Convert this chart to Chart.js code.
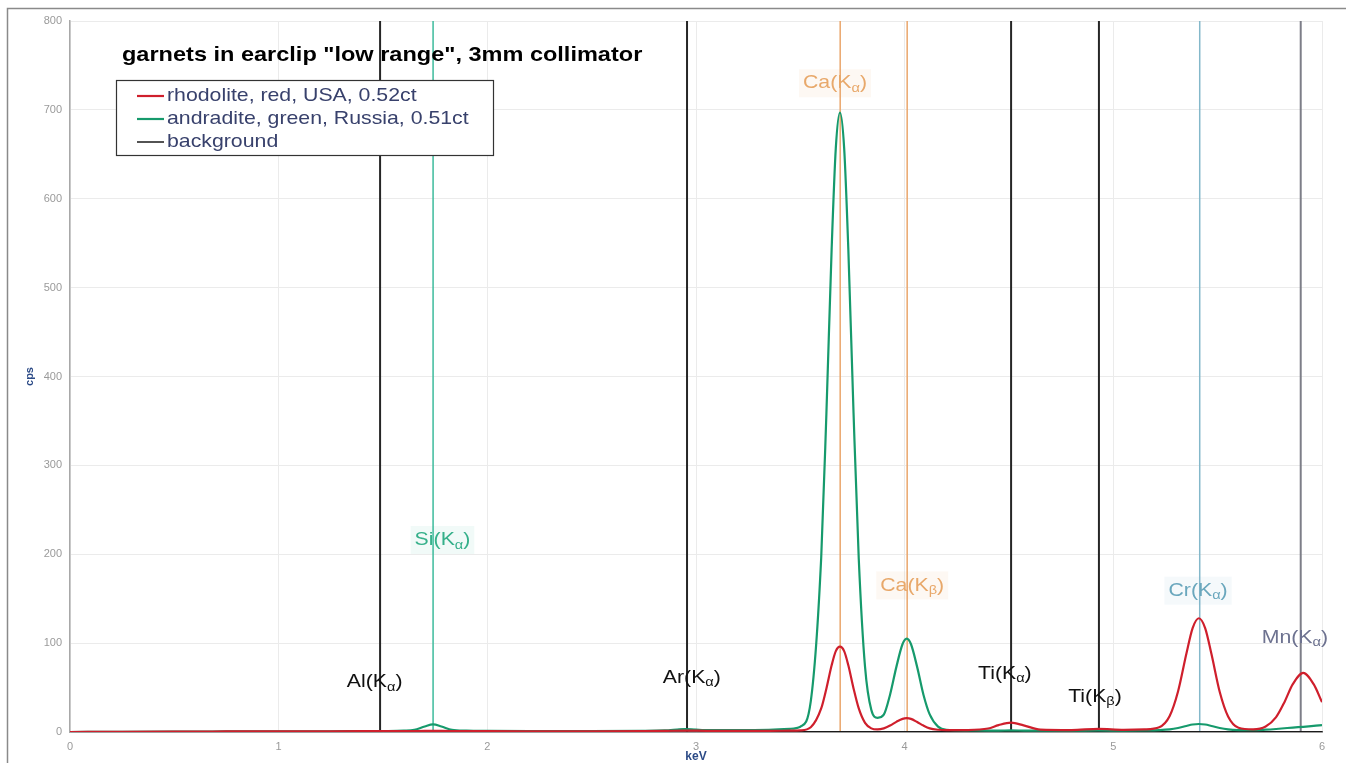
<!DOCTYPE html>
<html>
<head>
<meta charset="utf-8">
<title>garnets in earclip</title>
<script src="https://cdn.jsdelivr.net/npm/chart.js@4.4.1/dist/chart.umd.min.js"></script>
<style>
  html, body { margin: 0; padding: 0; background: #fff; }
  #wrap { position: relative; width: 1346px; height: 763px; }
</style>
</head>
<body>
<div id="wrap"><canvas id="spectrumChart"></canvas></div>
<script>
// energy grid (keV), denser around the peaks
var energies = [0, 0.25, 0.5, 0.75, 1.0, 1.25, 1.4, 1.5, 1.6, 1.65,
    1.7, 1.74, 1.78, 1.83, 1.9, 2.0, 2.25, 2.5, 2.75, 2.85,
    2.95, 3.05, 3.2, 3.35, 3.45, 3.5, 3.55, 3.6, 3.625, 3.65,
    3.67, 3.69, 3.71, 3.73, 3.755, 3.78, 3.81, 3.84, 3.87, 3.9,
    3.93, 3.96, 3.99, 4.01, 4.03, 4.06, 4.09, 4.12, 4.16, 4.2,
    4.3, 4.4, 4.45, 4.51, 4.57, 4.65, 4.8, 4.93, 5.05, 5.15,
    5.22, 5.27, 5.31, 5.35, 5.38, 5.41, 5.44, 5.47, 5.51, 5.55,
    5.6, 5.67, 5.73, 5.78, 5.82, 5.86, 5.91, 5.96, 6.0];

// counts per second
var rhodolite = [0, 0.3, 0.5, 0.6, 0.7, 0.8, 0.9, 1.0, 1.0, 1.1,
    1.2, 1.3, 1.2, 1.1, 1.0, 0.9, 0.8, 0.8, 1.0, 1.2,
    1.6, 1.3, 1.2, 1.3, 1.5, 1.8, 5.3, 26.5, 49, 75,
    91, 96, 91, 75, 49, 26.5, 10.3, 4.1, 2.9, 4.1,
    7.2, 11.4, 14.8, 15.5, 14.8, 11.2, 7.2, 4.1, 2.5, 2.1,
    2.2, 3.9, 7.7, 10.5, 7.5, 2.7, 2.2, 3.6, 2.5, 2.9,
    5.3, 18, 45.5, 88, 117, 128, 117, 88, 45, 17.5,
    4.8, 3.0, 6.1, 16.7, 33.6, 53.8, 66.5, 53.8, 33.6];

var andradite = [0, 0.3, 0.5, 0.6, 0.7, 0.8, 1.0, 1.1, 1.5, 2.4,
    6.2, 8.5, 6.2, 2.4, 1.5, 1.2, 1.0, 1.0, 1.3, 1.8,
    3.2, 2.0, 2.0, 2.5, 3.6, 6.0, 34.5, 196, 359, 543,
    657, 697, 657, 543, 359, 195, 73.5, 25, 16, 19.5,
    42, 73, 99, 105, 99, 73, 42, 19.8, 6.1, 2.5,
    1.8, 1.6, 1.6, 1.8, 1.6, 1.5, 1.5, 1.7, 1.6, 1.8,
    2.2, 3.0, 4.5, 6.8, 8.4, 9, 8.4, 6.8, 4.5, 3.0,
    2.2, 2.0, 2.6, 3.4, 4.2, 5.0, 5.8, 6.8, 7.8];

var background = [0, 0.3, 0.3, 0.3, 0.3, 0.3, 0.3, 0.3, 0.3, 0.3,
    0.3, 0.3, 0.3, 0.3, 0.3, 0.3, 0.3, 0.3, 0.5, 1.2,
    3.0, 1.0, 0.4, 0.3, 0.3, 0.3, 0.3, 0.3, 0.3, 0.3,
    0.3, 0.3, 0.3, 0.3, 0.3, 0.3, 0.3, 0.3, 0.3, 0.3,
    0.3, 0.3, 0.3, 0.3, 0.3, 0.3, 0.3, 0.3, 0.3, 0.3,
    0.3, 0.3, 0.3, 0.3, 0.3, 0.3, 0.3, 0.3, 0.3, 0.3,
    0.3, 0.3, 0.3, 0.3, 0.3, 0.3, 0.3, 0.3, 0.3, 0.3,
    0.3, 0.3, 0.3, 0.3, 0.3, 0.3, 0.3, 0.3, 0.3];

var seriesNames = ['rhodolite, red, USA, 0.52ct', 'andradite, green, Russia, 0.51ct', 'background'];

// emission lines
var lineElements = ['Al', 'Si', 'Ar', 'Ca', 'Ca', 'Ti', 'Ti', 'Cr', 'Mn'];
var lineShells = ['α', 'α', 'α', 'α', 'β', 'α', 'β', 'α', 'α'];
var lineEnergies = [1.486, 1.740, 2.957, 3.691, 4.012, 4.510, 4.931, 5.414, 5.898];
// where each line's name sits (keV, cps)
var labelEnergies = [1.46, 1.785, 2.98, 3.666, 4.036, 4.48, 4.912, 5.406, 5.87];
var labelCps = [56, 216, 61, 730, 165, 66, 40, 159, 106];

var xTicks = [0, 1, 2, 3, 4, 5, 6];
var yMax = 800;

// styles
var seriesColors = ['#cf1f2c', '#169a6c', '#1a1a1a'];
var seriesWidths = [2.2, 2.2, 1.5];
var lineColors = ['#262626', '#3dbb9c', '#262626', '#eaa66b', '#eaa66b', '#262626', '#262626', '#84b8ca', '#7d7e88'];
var lineWidths = [2, 1.5, 2, 1.5, 1.5, 2, 2, 1.5, 2];
var labelColors = ['#111', '#35b08a', '#111', '#e8a86a', '#e8a86a', '#111', '#111', '#6aa7bd', '#6d7290'];
var labelTints = [null, 'rgba(61,187,156,0.07)', null, 'rgba(234,166,107,0.08)', 'rgba(234,166,107,0.08)', null, null, 'rgba(132,184,202,0.08)', null];

var FONT = '"Liberation Sans", Arial, sans-serif';
var STRETCH = 1.12;

function pts(values) {
    var out = [];
    for (var i = 0; i < energies.length; i++) {
        out.push({ x: energies[i], y: values[i] });
    }
    return out;
}

function wideText(ctx, text, x, y) {
    ctx.save();
    ctx.translate(x, y);
    ctx.scale(STRETCH, 1);
    ctx.fillText(text, 0, 0);
    ctx.restore();
}

var datasets = [];
[rhodolite, andradite, background].forEach(function (vals, i) {
    datasets.push({
        label: seriesNames[i],
        inLegend: true,
        data: pts(vals),
        borderColor: seriesColors[i],
        backgroundColor: seriesColors[i],
        borderWidth: seriesWidths[i],
        cubicInterpolationMode: 'monotone',
        pointRadius: 0,
        fill: false,
        order: i
    });
});
lineEnergies.forEach(function (e, i) {
    datasets.push({
        label: lineElements[i] + ' K' + lineShells[i],
        inLegend: false,
        data: [{ x: e, y: 0 }, { x: e, y: yMax }],
        borderColor: lineColors[i],
        borderWidth: lineWidths[i],
        pointRadius: 0,
        fill: false,
        order: 10
    });
});

// white page, outer frame
var framePlugin = {
    id: 'frame',
    beforeDraw: function (chart) {
        var ctx = chart.ctx;
        ctx.save();
        ctx.fillStyle = '#fff';
        ctx.fillRect(0, 0, chart.width, chart.height);
        ctx.strokeStyle = '#8a8a8a';
        ctx.lineWidth = 1.5;
        ctx.beginPath();
        ctx.moveTo(7.5, chart.height);
        ctx.lineTo(7.5, 8.5);
        ctx.lineTo(chart.width, 8.5);
        ctx.stroke();
        ctx.restore();
    }
};

// element names next to their lines
var lineLabelPlugin = {
    id: 'lineLabels',
    afterDatasetsDraw: function (chart) {
        var ctx = chart.ctx;
        var xs = chart.scales.x, ys = chart.scales.y;
        ctx.save();
        ctx.textAlign = 'left';
        ctx.textBaseline = 'middle';
        for (var i = 0; i < lineElements.length; i++) {
            var cx = xs.getPixelForValue(labelEnergies[i]);
            var cy = ys.getPixelForValue(labelCps[i]);
            var big = '19px ' + FONT, small = '13px ' + FONT;
            ctx.font = big;
            var w1 = ctx.measureText(lineElements[i] + '(K').width * STRETCH;
            var w3 = ctx.measureText(')').width * STRETCH;
            ctx.font = small;
            var w2 = ctx.measureText(lineShells[i]).width * STRETCH;
            var x = cx - (w1 + w2 + w3) / 2;
            if (labelTints[i]) {
                ctx.fillStyle = labelTints[i];
                ctx.fillRect(x - 4, cy - 14, w1 + w2 + w3 + 8, 28);
            }
            ctx.fillStyle = labelColors[i];
            ctx.font = big;
            wideText(ctx, lineElements[i] + '(K', x, cy);
            ctx.font = small;
            wideText(ctx, lineShells[i], x + w1, cy + 5);
            ctx.font = big;
            wideText(ctx, ')', x + w1 + w2, cy);
        }
        ctx.restore();
    }
};

// title and boxed legend inside the plot
var titleLegendPlugin = {
    id: 'titleLegend',
    afterDraw: function (chart) {
        var ctx = chart.ctx;
        ctx.save();
        ctx.textAlign = 'left';
        ctx.textBaseline = 'middle';
        ctx.fillStyle = '#000';
        ctx.font = 'bold 21px ' + FONT;
        wideText(ctx, 'garnets in earclip "low range", 3mm collimator', 122, 55);

        ctx.fillStyle = '#fff';
        ctx.fillRect(116.5, 80.5, 377, 75);
        ctx.strokeStyle = '#333';
        ctx.lineWidth = 1.2;
        ctx.strokeRect(116.5, 80.5, 377, 75);

        var rows = chart.data.datasets.filter(function (d) { return d.inLegend; });
        ctx.font = '19px ' + FONT;
        rows.forEach(function (d, i) {
            var y = 96 + i * 23;
            ctx.strokeStyle = d.borderColor;
            ctx.lineWidth = d.borderWidth;
            ctx.beginPath();
            ctx.moveTo(137, y);
            ctx.lineTo(164, y);
            ctx.stroke();
            ctx.fillStyle = '#38416c';
            wideText(ctx, d.label, 167, y);
        });
        ctx.restore();
    }
};

new Chart('spectrumChart', {
    type: 'line',
    data: { datasets: datasets },
    options: {
        responsive: true,
        maintainAspectRatio: false,
        animation: false,
        layout: { padding: { left: 0, right: 24, top: 21, bottom: 0 } },
        plugins: {
            legend: { display: false },
            tooltip: { enabled: false }
        },
        scales: {
            x: {
                type: 'linear',
                min: xTicks[0],
                max: xTicks[xTicks.length - 1],
                afterBuildTicks: function (scale) {
                    scale.ticks = xTicks.map(function (v) { return { value: v }; });
                },
                afterFit: function (scale) { scale.height = 31; },
                grid: { color: '#ebebeb', drawTicks: false },
                border: { color: '#555', width: 1.5 },
                ticks: { padding: 8, color: '#9a9a9a', font: { size: 11, family: FONT } },
                title: {
                    display: true, text: 'keV', color: '#2b4a86',
                    font: { size: 12, weight: 'bold', family: FONT, lineHeight: 1 },
                    padding: { top: 0, bottom: 0 }
                }
            },
            y: {
                min: 0,
                max: yMax,
                ticks: { stepSize: 100, padding: 8, color: '#9a9a9a', font: { size: 11, family: FONT } },
                afterFit: function (scale) { scale.width = 70; },
                grid: { color: '#ebebeb', drawTicks: false },
                border: { color: '#a8a8a8', width: 1.5 },
                title: {
                    display: true, text: 'cps', color: '#2b4a86',
                    font: { size: 11, weight: 'bold', family: FONT, lineHeight: 1 },
                    padding: { top: 24, bottom: 0 }
                }
            }
        }
    },
    plugins: [framePlugin, lineLabelPlugin, titleLegendPlugin]
});
</script>
</body>
</html>
